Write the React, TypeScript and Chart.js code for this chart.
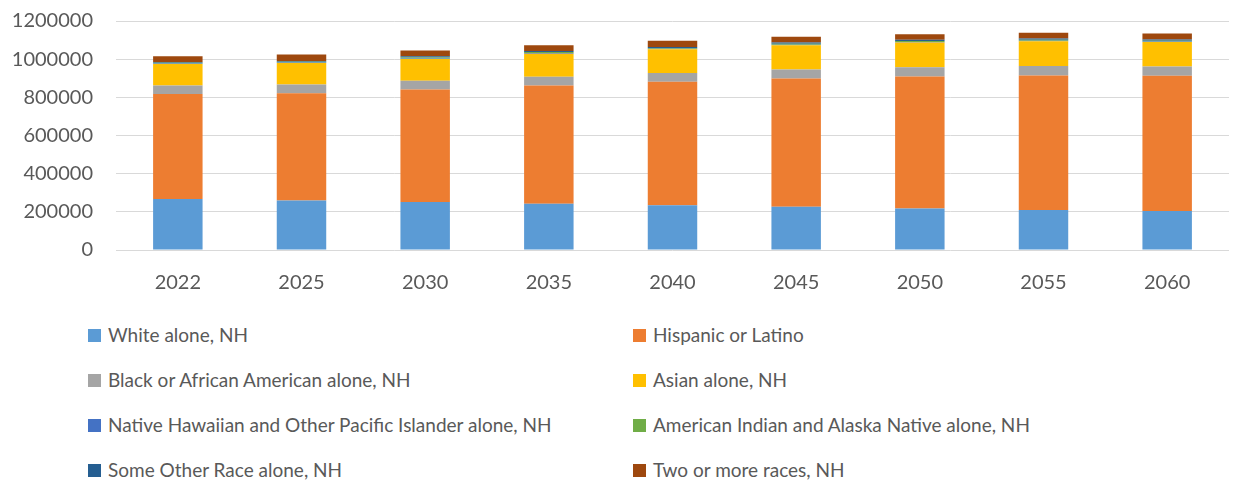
import React, { useEffect, useRef } from "react";
import { Chart, registerables } from "chart.js";

Chart.register(...registerables);

const years = ["2022", "2025", "2030", "2035", "2040", "2045", "2050", "2055", "2060"];

const white = [267000, 259000, 252000, 243000, 234000, 227000, 217000, 209000, 204000];
const hispanic = [550000, 563000, 589000, 619000, 648000, 672000, 692000, 706000, 709000];
const black = [45000, 45000, 46000, 46000, 45000, 47000, 48000, 49000, 49000];
const asian = [113000, 113000, 114000, 121000, 125000, 127000, 130000, 130000, 128000];
const nhpi = [2000, 2000, 3000, 3000, 3000, 3000, 3000, 3000, 3000];
const aian = [4000, 4000, 5000, 5000, 4000, 5000, 5000, 5000, 4000];
const otherRace = [4000, 4000, 6000, 6000, 5000, 6000, 7000, 6000, 6000];
const twoOrMore = [30000, 34000, 31000, 30000, 32000, 31000, 28000, 31000, 31000];

const seriesLabels = [
  "White alone, NH",
  "Hispanic or Latino",
  "Black or African American alone, NH",
  "Asian alone, NH",
  "Native Hawaiian and Other Pacific Islander alone, NH",
  "American Indian and Alaska Native alone, NH",
  "Some Other Race alone, NH",
  "Two or more races, NH",
];
const seriesValues = [white, hispanic, black, asian, nhpi, aian, otherRace, twoOrMore];
const seriesColors = ["#5B9BD5", "#ED7D31", "#A5A5A5", "#FFC000", "#4472C4", "#70AD47", "#255E91", "#9E480E"];

const yTicks = [0, 200000, 400000, 600000, 800000, 1000000, 1200000];

const FONT = "Lato, 'Open Sans', sans-serif";
const TEXT = "#595959";

export default function App() {
  const ref = useRef<HTMLCanvasElement | null>(null);

  useEffect(() => {
    if (!ref.current) return;
    const chart = new Chart(ref.current, {
      type: "bar",
      data: {
        labels: years,
        datasets: seriesLabels.map((label, i) => ({
          label,
          data: seriesValues[i],
          backgroundColor: seriesColors[i],
          borderWidth: 0,
          categoryPercentage: 0.8,
          barPercentage: 0.5,
        })),
      },
      options: {
        responsive: false,
        animation: false,
        layout: { padding: { top: 21, right: 4, left: 0, bottom: 0 } },
        plugins: { legend: { display: false }, tooltip: { enabled: false } },
        scales: {
          x: {
            stacked: true,
            grid: { display: false, drawTicks: false },
            border: { display: false },
            ticks: { color: TEXT, font: { family: FONT, size: 20 }, padding: 21 },
            afterFit: (s: any) => { s.height = 50; s.paddingLeft = 0; s.paddingRight = 0; },
          },
          y: {
            stacked: true,
            min: 0,
            max: 1200000,
            afterBuildTicks: (s: any) => { s.ticks = yTicks.map((v) => ({ value: v })); },
            grid: { color: "#D9D9D9", lineWidth: 1, drawTicks: false },
            border: { display: false },
            ticks: { color: TEXT, font: { family: FONT, size: 20 }, padding: 23, callback: (v: any) => String(v) },
            afterFit: (s: any) => { s.width = 116; s.paddingTop = 10; s.paddingBottom = 0; },
          },
        },
      },
    });
    return () => chart.destroy();
  }, []);

  return (
    <div style={{ position: "absolute", left: 0, top: 0, width: 1233, height: 481, background: "#fff", fontFamily: FONT }}>
      <canvas ref={ref} width={1233} height={300} style={{ display: "block", width: 1233, height: 300 }} />
      {seriesLabels.map((label, i) => {
        const col = i % 2;
        const row = Math.floor(i / 2);
        const left = col === 0 ? 88 : 633;
        const cy = 335 + row * 45;
        return (
          <div key={label} style={{ position: "absolute", left, top: cy - 14, height: 28, display: "flex", alignItems: "center", whiteSpace: "nowrap" }}>
            <span style={{ display: "inline-block", width: 13, height: 13, background: seriesColors[i], marginRight: 7 }} />
            <span style={{ color: TEXT, fontSize: 19, lineHeight: "28px" }}>{label}</span>
          </div>
        );
      })}
    </div>
  );
}
